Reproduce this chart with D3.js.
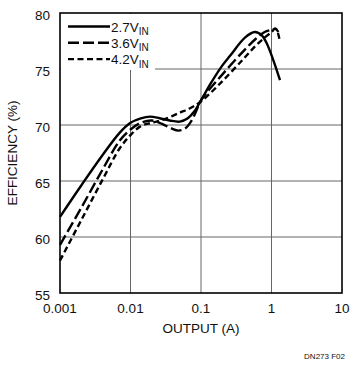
<!DOCTYPE html>
<html>
<head>
<meta charset="utf-8">
<script src="https://cdn.jsdelivr.net/npm/d3@7"></script>
<style>
  body { margin: 0; background: #fff; }
  text { font-family: "Liberation Sans", Arial, sans-serif; fill: #111; }
</style>
</head>
<body>
<div id="chart"></div>
<script>
// values
var xTicks = [0.001, 0.01, 0.1, 1, 10];
var xTickLabels = ["0.001", "0.01", "0.1", "1", "10"];
var yTicks = [55, 60, 65, 70, 75, 80];

var seriesNames = ["2.7V", "3.6V", "4.2V"];

var current27 = [0.001, 0.002, 0.004, 0.007, 0.01, 0.014, 0.019, 0.026, 0.036, 0.05, 0.065, 0.08, 0.1, 0.134, 0.2, 0.26, 0.42, 0.58, 0.73, 0.855, 1.06, 1.32];
var eff27     = [61.8, 64.6, 67.3, 69.3, 70.2, 70.6, 70.75, 70.6, 70.4, 70.3, 70.6, 71.2, 72.2, 73.6, 75.3, 76.2, 77.8, 78.3, 78.0, 77.3, 75.8, 74.0];

var current36 = [0.001, 0.002, 0.004, 0.007, 0.01, 0.014, 0.02, 0.028, 0.038, 0.048, 0.06, 0.072, 0.085, 0.1, 0.2, 0.4, 0.6, 0.8, 1.0, 1.15, 1.25];
var eff36     = [59.3, 62.6, 66.0, 68.6, 69.6, 70.2, 70.4, 70.1, 69.7, 69.5, 69.7, 70.3, 71.2, 72.2, 74.5, 76.6, 77.7, 78.3, 78.5, 78.6, 78.3];

var current42 = [0.001, 0.002, 0.004, 0.007, 0.01, 0.014, 0.02, 0.03, 0.05, 0.07, 0.1, 0.2, 0.4, 0.6, 0.8, 1.0, 1.12, 1.22, 1.3];
var eff42     = [57.9, 61.5, 65.1, 67.9, 69.1, 69.9, 70.2, 70.5, 71.1, 71.5, 72.1, 73.9, 75.9, 77.1, 77.8, 78.3, 78.6, 78.3, 77.6];

var pL = 60, pR = 342, pT = 13, pB = 293;

var svg = d3.select("#chart").append("svg")
  .attr("width", 359)
  .attr("height", 373);

var x = d3.scaleLog().domain([0.001, 10]).range([pL, pR]);
var y = d3.scaleLinear().domain([55, 80]).range([pB, pT]);

// grid
var grid = svg.append("g").attr("stroke", "#666").attr("stroke-width", 1);
grid.selectAll("line.vx")
  .data(xTicks.slice(1, -1))
  .enter().append("line")
  .attr("x1", function (d) { return x(d); })
  .attr("x2", function (d) { return x(d); })
  .attr("y1", pT).attr("y2", pB);
grid.selectAll("line.hy")
  .data(yTicks.slice(1, -1))
  .enter().append("line")
  .attr("y1", function (d) { return y(d); })
  .attr("y2", function (d) { return y(d); })
  .attr("x1", pL).attr("x2", pR);

// legend background hides the grid
svg.append("rect")
  .attr("x", pL + 1).attr("y", pT + 1)
  .attr("width", 94).attr("height", 56)
  .attr("fill", "#fff");

var line = d3.line()
  .x(function (d) { return x(d[0]); })
  .y(function (d) { return y(d[1]); })
  .curve(d3.curveCatmullRom.alpha(0.5));

var series = [
  { name: seriesNames[0], pts: d3.zip(current27, eff27), dash: null },
  { name: seriesNames[1], pts: d3.zip(current36, eff36), dash: "11,4" },
  { name: seriesNames[2], pts: d3.zip(current42, eff42), dash: "6,3.5" }
];

svg.selectAll("path.curve")
  .data(series)
  .enter().append("path")
  .attr("class", "curve")
  .attr("d", function (d) { return line(d.pts); })
  .attr("fill", "none")
  .attr("stroke", "#000")
  .attr("stroke-width", 2.4)
  .attr("stroke-dasharray", function (d) { return d.dash; });

// frame
svg.append("rect")
  .attr("x", pL).attr("y", pT)
  .attr("width", pR - pL).attr("height", pB - pT)
  .attr("fill", "none").attr("stroke", "#000").attr("stroke-width", 1.6);

// tick labels
svg.selectAll("text.xt")
  .data(xTicks)
  .enter().append("text")
  .attr("x", function (d) { return x(d); })
  .attr("y", 312.5)
  .attr("text-anchor", "middle")
  .attr("font-size", 13.5)
  .text(function (d, i) { return xTickLabels[i]; });

svg.selectAll("text.yt")
  .data(yTicks)
  .enter().append("text")
  .attr("x", 50)
  .attr("y", function (d) { return y(d) + 6.5; })
  .attr("text-anchor", "end")
  .attr("font-size", 13.5)
  .text(function (d) { return d; });

svg.append("text")
  .attr("x", (pL + pR) / 2)
  .attr("y", 333)
  .attr("text-anchor", "middle")
  .attr("font-size", 13.5)
  .text("OUTPUT (A)");

svg.append("text")
  .attr("transform", "translate(17," + ((pT + pB) / 2) + ") rotate(-90)")
  .attr("text-anchor", "middle")
  .attr("font-size", 13.5)
  .text("EFFICIENCY (%)");

svg.append("text")
  .attr("x", 345)
  .attr("y", 359)
  .attr("text-anchor", "end")
  .attr("font-size", 8)
  .text("DN273 F02");

// legend
var lg = svg.selectAll("g.legend")
  .data(series)
  .enter().append("g")
  .attr("transform", function (d, i) { return "translate(0," + (26.5 + i * 16.3) + ")"; });

lg.append("line")
  .attr("x1", 68).attr("x2", 110)
  .attr("stroke", "#000")
  .attr("stroke-width", 2.4)
  .attr("stroke-dasharray", function (d) { return d.dash; });

var lt = lg.append("text")
  .attr("x", 111)
  .attr("y", 5)
  .attr("font-size", 13.5);
lt.append("tspan").text(function (d) { return d.name; });
lt.append("tspan").attr("dy", 3.5).attr("font-size", 10).text("IN");
</script>
</body>
</html>
